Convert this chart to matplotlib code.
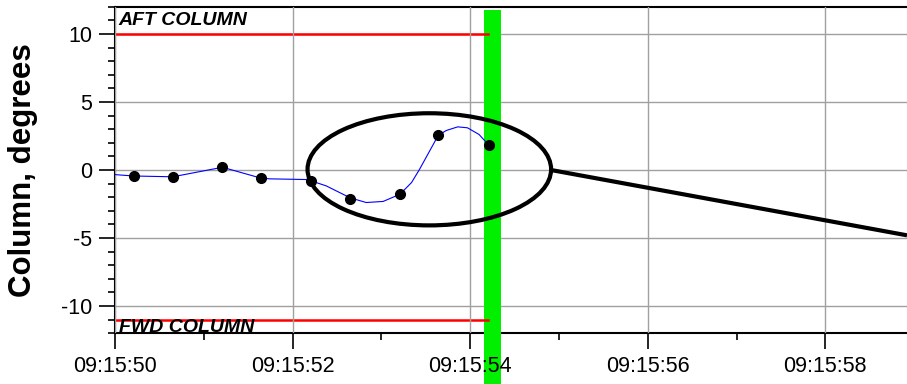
import matplotlib
matplotlib.use("Agg")
import matplotlib.pyplot as plt
from matplotlib.patches import Ellipse

plt.rcParams['font.family'] = ['Liberation Sans', 'DejaVu Sans']
plt.rcParams['axes.unicode_minus'] = False

# seconds after 09:15:00
tick_secs = [50, 52, 54, 56, 58]
tick_labels = ["09:15:50", "09:15:52", "09:15:54", "09:15:56", "09:15:58"]

# recorded samples (dots)
sample_t = [50.21, 50.65, 51.21, 51.645, 52.21, 52.65, 53.21, 53.64, 54.21]
sample_v = [-0.44, -0.51, 0.20, -0.56, -0.80, -2.10, -1.78, 2.54, 1.83]

# smoothed column trace (blue)
trace_t = [50.0, 50.21, 50.65, 51.21, 51.645, 51.74, 52.15, 52.21, 52.38, 52.65,
           52.83, 53.02, 53.21, 53.34, 53.43, 53.64, 53.73, 53.86, 53.97, 54.10, 54.21]
trace_v = [-0.34, -0.44, -0.50, 0.20, -0.60, -0.65, -0.70, -0.80, -1.17, -2.05,
           -2.39, -2.31, -1.78, -0.92, 0.05, 2.54, 2.90, 3.17, 3.10, 2.61, 1.83]

# column stop limits
aft_limit = 10
fwd_limit = -11
limit_end = 54.2

# highlighted instant
mark_start, mark_end = 54.16, 54.35

fig = plt.figure(figsize=(9.07, 3.84), dpi=100)
ax = fig.add_axes([0.1268, 0.132, 0.8732, 0.8506])

# green marker band, extends down through the tick labels
ax.axvspan(mark_start, mark_end, ymin=-0.16, ymax=0.99, color='#00f000',
           lw=0, clip_on=False, zorder=2.6)

# limits
ax.plot([50, limit_end], [aft_limit, aft_limit], color='red', lw=1.8, zorder=3)
ax.plot([50, limit_end], [fwd_limit, fwd_limit], color='red', lw=1.8, zorder=3)
ax.text(50.04, 10.62, "AFT COLUMN", fontsize=14, fontweight='bold',
        fontstyle='italic', va='baseline', zorder=5)
ax.text(50.04, -11.87, "FWD COLUMN", fontsize=14, fontweight='bold',
        fontstyle='italic', va='baseline', zorder=5)

# data
ax.plot(trace_t, trace_v, color='blue', lw=0.8, zorder=4)
ax.plot(sample_t, sample_v, 'o', color='black', ms=7, zorder=4.5)

# callout
ax.add_patch(Ellipse((53.54, 0.05), 2.743, 8.24, fill=False, ec='black',
                     lw=3, zorder=6))
ax.plot([54.91, 58.92], [0.0, -4.80], color='black', lw=3, zorder=6,
        solid_capstyle='butt')

ax.set_xlim(50, 58.92)
ax.set_ylim(-12, 12)
ax.set_xticks(tick_secs)
ax.set_xticklabels(tick_labels)
ax.set_xticks([51, 53, 55, 57], minor=True)
ax.set_yticks([-10, -5, 0, 5, 10])
ax.set_yticks(range(-12, 13), minor=True)

ax.tick_params(which='major', length=11.5, width=1.2, labelsize=15.5, pad=5,
               direction='out')
ax.tick_params(which='minor', length=5, width=1.2, direction='out')
ax.grid(True, which='major', color='#a0a0a0', lw=1.0)
ax.xaxis.set_zorder(3)

for side in ['left', 'bottom', 'top']:
    ax.spines[side].set_linewidth(1.5)
    ax.spines[side].set_color('black')
ax.spines['right'].set_visible(False)

ax.set_ylabel("Column, degrees", fontsize=22.5, fontweight='bold', va='center')
ax.yaxis.set_label_coords(-0.116, 0.5)

fig.savefig('out.png', dpi=100)
